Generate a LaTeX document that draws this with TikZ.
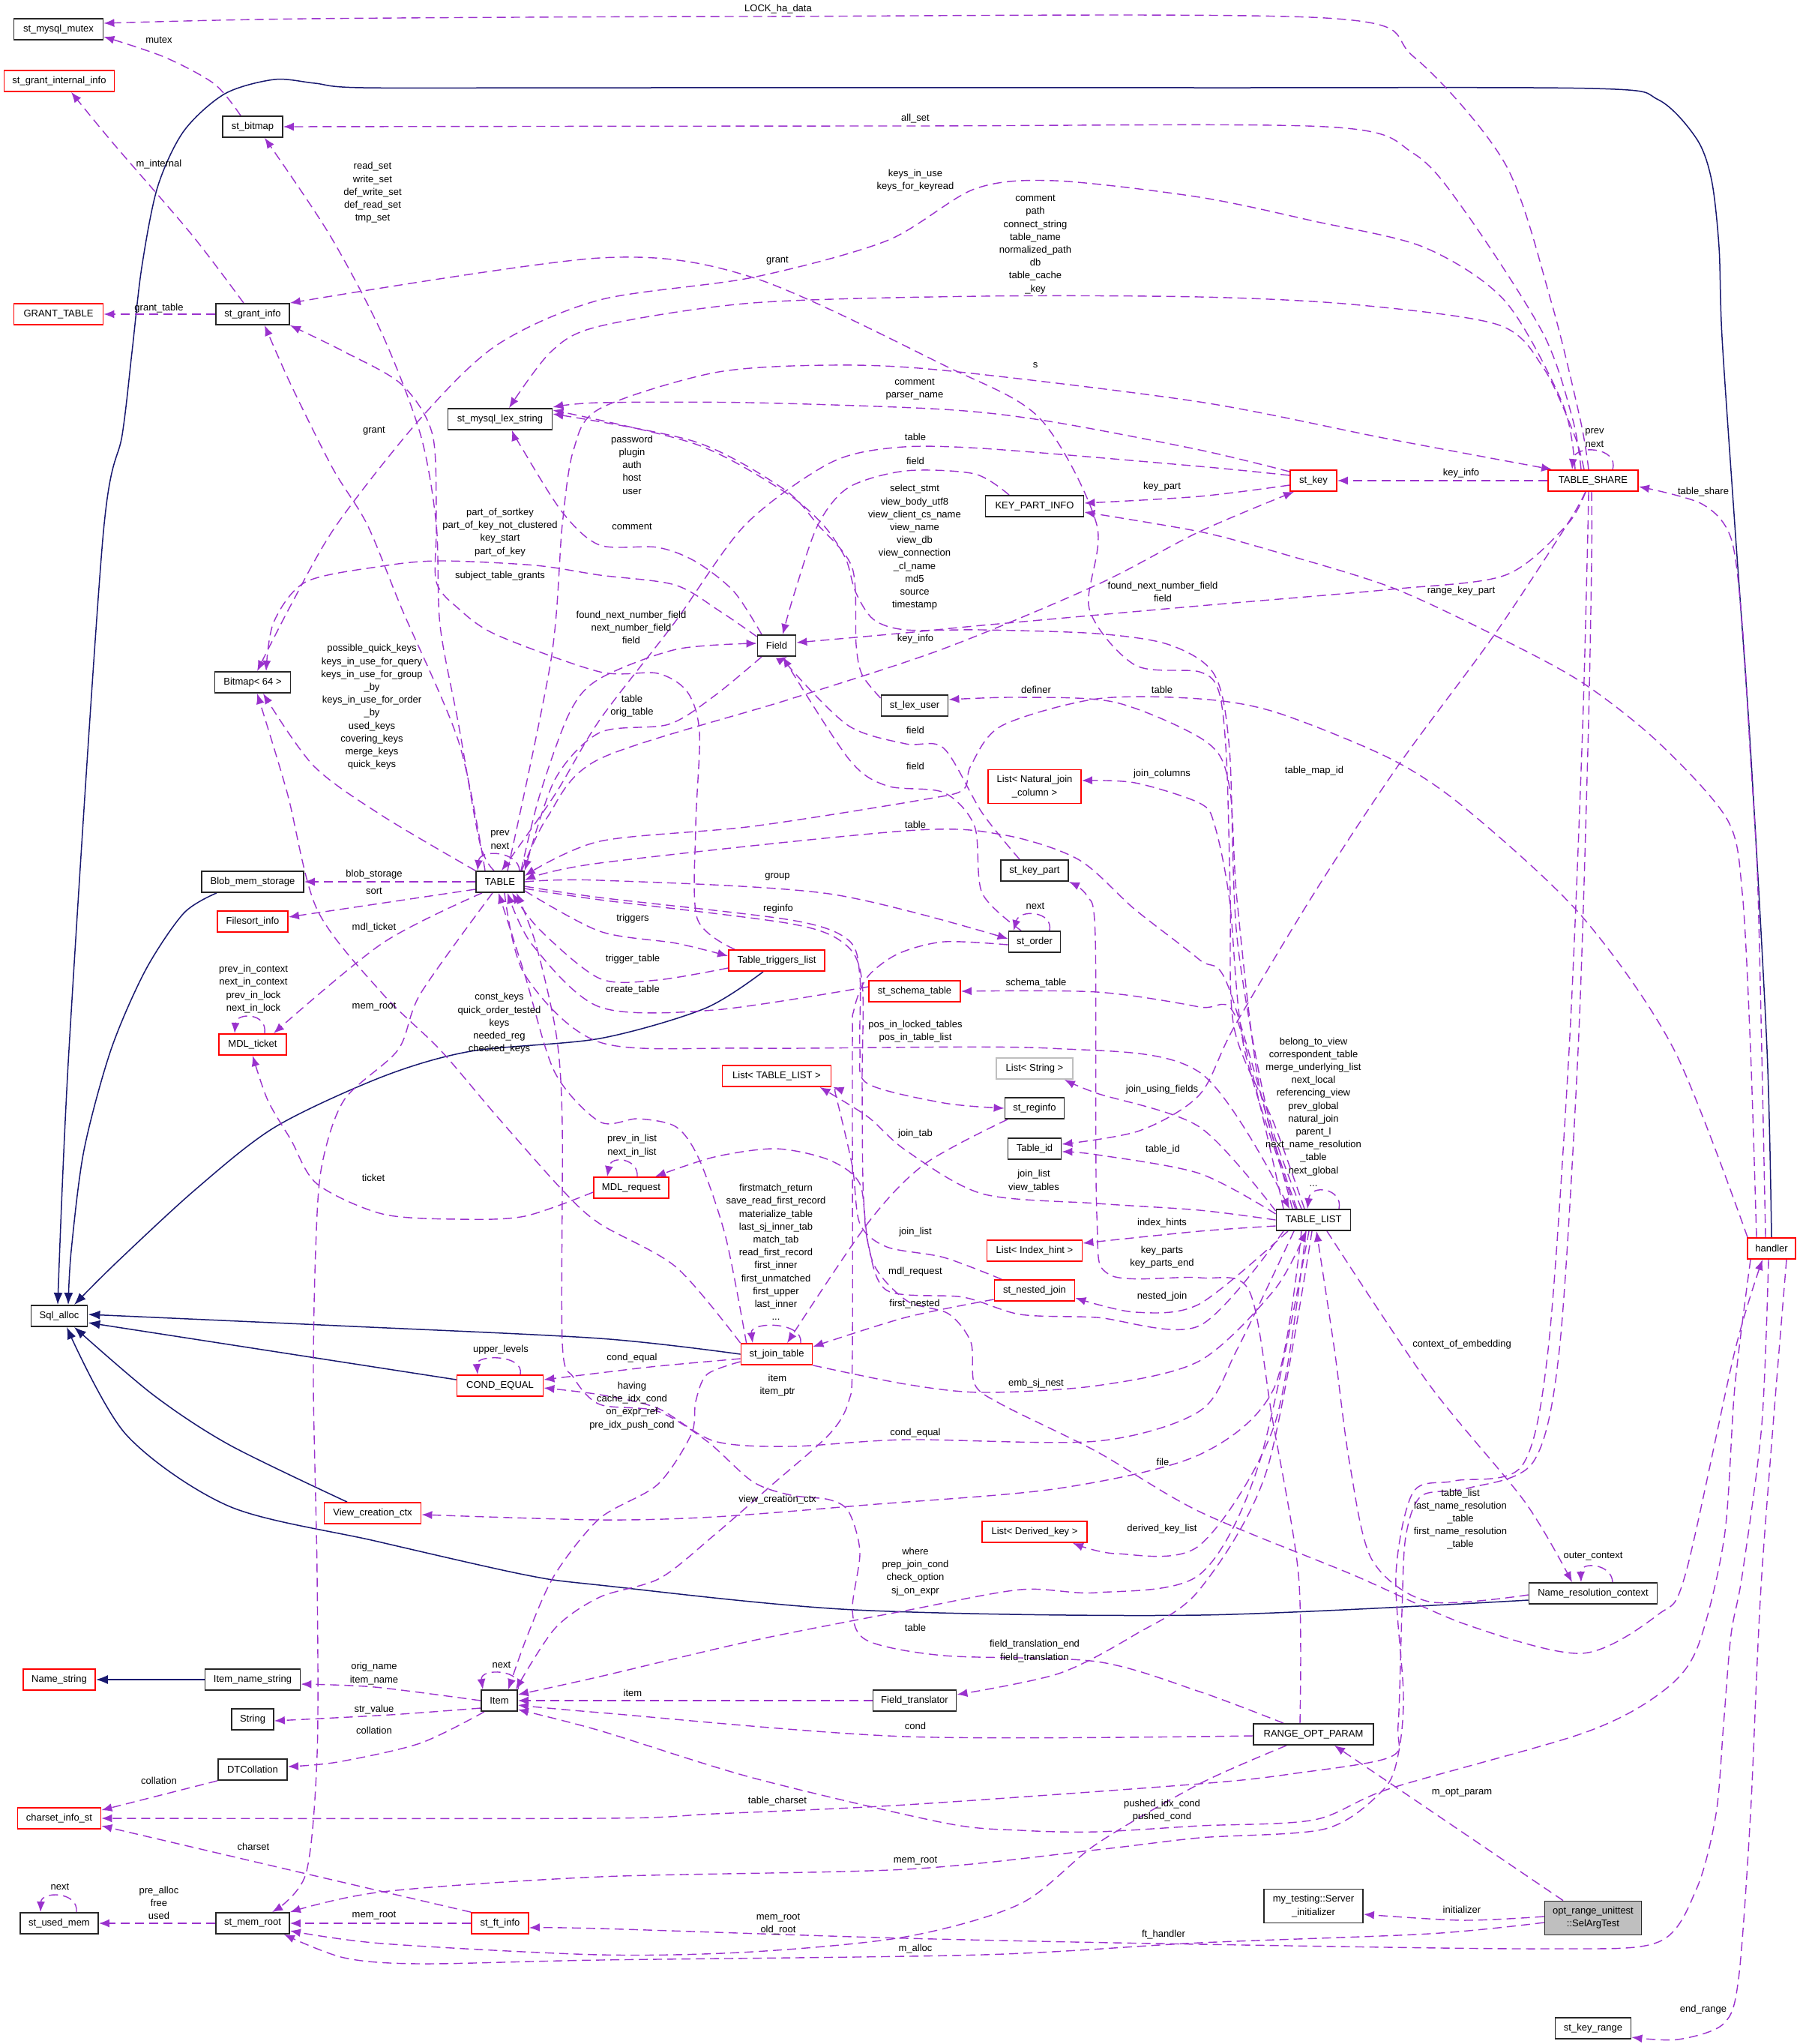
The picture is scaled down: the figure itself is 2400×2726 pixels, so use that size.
\documentclass[tikz,border=0pt]{standalone}
\usepackage{fontspec}
\setmainfont{Liberation Sans}
\usetikzlibrary{arrows.meta}
\pgfdeclarelayer{back}
\pgfdeclarelayer{bg}
\pgfsetlayers{back,bg,main}
\definecolor{pur}{HTML}{9A32CD}
\definecolor{nav}{HTML}{191970}
\definecolor{boxgray}{HTML}{BFBFBF}
\newcommand\nf{\fontsize{6.5pt}{8.6pt}\selectfont}
\tikzset{
 box/.style={draw=black!85, line width=0.9pt, fill=white, minimum height=14pt, inner sep=0pt, font=\nf, align=center},
 rbox/.style={box, draw=red},
 gbox/.style={box, draw=boxgray},
 wd/.style={minimum width=#1*0.5pt},
 two/.style={minimum height=22.5pt},
 lbl/.style={font=\nf, align=center, inner sep=0pt},
 dep/.style={draw=pur, line width=0.7pt, dash pattern=on 6pt off 3.5pt, -{Latex[length=7pt,width=5.5pt]}},
 inh/.style={draw=nav, line width=0.75pt, -{Latex[length=8pt,width=6pt]}},
}
\begin{document}
\begin{tikzpicture}[x=0.5pt,y=-0.5pt]
\useasboundingbox (0,0) rectangle (2400,2726);
\begin{pgfonlayer}{back}
\fill[white] (0,0) rectangle (2400,2726);
\end{pgfonlayer}
% ---------------- nodes ----------------
\node[box,wd=119] (mutex) at (78,39) {st\_mysql\_mutex};
\node[rbox,wd=147] (grantint) at (79,108) {st\_grant\_internal\_info};
\node[box,wd=80] (bitmap) at (337,169) {st\_bitmap};
\node[rbox,wd=119] (granttable) at (78,419) {GRANT\_TABLE};
\node[box,wd=98] (grantinfo) at (337,419) {st\_grant\_info};
\node[box,wd=139] (lexstr) at (667,559) {st\_mysql\_lex\_string};
\node[box,wd=131] (kpi) at (1380,675) {KEY\_PART\_INFO};
\node[rbox,wd=62] (stkey) at (1752,641) {st\_key};
\node[rbox,wd=120] (share) at (2125,641) {TABLE\_SHARE};
\node[box,wd=101] (bitmap64) at (337,910) {Bitmap< 64 >};
\node[box,wd=136] (blob) at (337,1176) {Blob\_mem\_storage};
\node[box,wd=64] (table) at (667,1176) {TABLE};
\node[rbox,wd=94] (filesort) at (337,1229) {Filesort\_info};
\node[rbox,wd=90] (mdlticket) at (337,1393) {MDL\_ticket};
\node[box,wd=51] (field) at (1036,861) {Field};
\node[box,wd=89] (lexuser) at (1220,941) {st\_lex\_user};
\node[rbox,wd=124,two] (natjoin) at (1380,1049) {List< Natural\_join\\\_column >};
\node[box,wd=90] (keypart) at (1380,1161) {st\_key\_part};
\node[box,wd=69] (order) at (1380,1256) {st\_order};
\node[rbox,wd=128] (triggers) at (1036,1281) {Table\_triggers\_list};
\node[rbox,wd=122] (schema) at (1220,1322) {st\_schema\_table};
\node[rbox,wd=145] (listtl) at (1036,1435) {List< TABLE\_LIST >};
\node[gbox,wd=102] (liststr) at (1380,1425) {List< String >};
\node[box,wd=79] (reginfo) at (1380,1478) {st\_reginfo};
\node[box,wd=71] (tableid) at (1380,1532) {Table\_id};
\node[rbox,wd=100] (mdlreq) at (842,1584) {MDL\_request};
\node[rbox,wd=95] (jointab) at (1036,1806) {st\_join\_table};
\node[rbox,wd=127] (idxhint) at (1380,1668) {List< Index\_hint >};
\node[rbox,wd=107] (nested) at (1380,1721) {st\_nested\_join};
\node[rbox,wd=140] (derived) at (1380,2043) {List< Derived\_key >};
\node[box,wd=75] (sqlalloc) at (79,1755) {Sql\_alloc};
\node[rbox,wd=115] (condeq) at (667,1848) {COND\_EQUAL};
\node[rbox,wd=129] (viewctx) at (497,2018) {View\_creation\_ctx};
\node[box,wd=99] (tablelist) at (1752,1627) {TABLE\_LIST};
\node[rbox,wd=64] (handler) at (2363,1665) {handler};
\node[rbox,wd=96] (namestr) at (79,2240) {Name\_string};
\node[box,wd=127] (itemname) at (337,2240) {Item\_name\_string};
\node[box,wd=48] (item) at (666,2268) {Item};
\node[box,wd=56] (string) at (337,2293) {String};
\node[box,wd=92] (dtcoll) at (337,2360) {DTCollation};
\node[rbox,wd=111] (charset) at (79,2425) {charset\_info\_st};
\node[box,wd=104] (usedmem) at (79,2565) {st\_used\_mem};
\node[box,wd=98] (memroot) at (337,2565) {st\_mem\_root};
\node[rbox,wd=76] (ftinfo) at (667,2565) {st\_ft\_info};
\node[box,wd=111] (fieldtr) at (1220,2268) {Field\_translator};
\node[box,wd=171] (nrc) at (2125,2125) {Name\_resolution\_context};
\node[box,wd=160] (rop) at (1752,2313) {RANGE\_OPT\_PARAM};
\node[box,wd=132,two] (servinit) at (1752,2542) {my\_testing::Server\\\_initializer};
\node[box,wd=129,two,fill=boxgray] (selarg) at (2125,2558) {opt\_range\_unittest\\::SelArgTest};
\node[box,wd=101] (keyrange) at (2125,2705) {st\_key\_range};

% ---------------- edges ----------------
\begin{pgfonlayer}{bg}
% inheritance
\draw[inh] plot[smooth] coordinates {(handler.north) (2357,1400) (2335,1000) (2314,700) (2297,450) (2293,330) (2283,240) (2263,185) (2212,133) (2125,118) (1600,117) (800,117) (485,117) (420,111) (366,106) (300,125) (245,175) (210,250) (189,357) (176,470) (163,580) (137,720) (92,1400) ([xshift=-1pt]sqlalloc.north)};
\draw[inh] plot[smooth] coordinates {([xshift=-24pt]blob.south) (245,1218) (194,1294) (148,1400) (112,1534) (95,1668) ([xshift=6pt]sqlalloc.north)};
\draw[inh] plot[smooth] coordinates {([xshift=-9pt]triggers.south) (940,1345) (800,1385) (628,1402) (510,1436) (367,1503) (260,1587) (153,1686) ([xshift=10pt]sqlalloc.north)};
\draw[inh] plot[smooth] coordinates {(jointab.west) (800,1785) (450,1768) ([yshift=1pt]sqlalloc.east)};
\draw[inh] ([yshift=4pt]condeq.west) -- ([yshift=-4.5pt]sqlalloc.east);
\draw[inh] plot[smooth] coordinates {([xshift=-17pt]viewctx.north) (306,1927) (204,1860) ([xshift=10pt]sqlalloc.south)};
\draw[inh] plot[smooth] coordinates {([yshift=-4.5pt]nrc.west) (1600,2154) (1140,2147) (800,2114) (699,2100) (500,2055) (306,2009) (168,1913) ([xshift=5pt]sqlalloc.south)};
\draw[inh] (itemname) -- (namestr);

% dependencies
\draw[dep] plot[smooth] coordinates {([xshift=-3pt]share.north) (2108,560) (2069,402) (2008,219) (1886,76) (1768,24) (1000,22) (408,25) ([yshift=4pt]mutex.east)};
\draw[dep] plot[smooth] coordinates {([xshift=-8pt]bitmap.north) (286,112) (219,76) ([yshift=-5pt]mutex.east)};
\draw[dep] plot[smooth] coordinates {([xshift=-8pt]share.north) (2098,560) (2059,446) (1957,286) (1886,205) (1768,169) (1200,168) (bitmap.east)};
\draw[dep] plot[smooth] coordinates {([xshift=-6pt]grantinfo.north) (255,312) (150,190) ([xshift=8pt]grantint.south)};
\draw[dep] plot[smooth] coordinates {([xshift=-4pt]table.north) (640,1124) (612,968) (587,834) (582,700) (561,580) (510,446) (439,312) ([xshift=8pt]bitmap.south)};
\draw[dep] plot[smooth] coordinates {([xshift=-12pt]share.north) (2085,540) (2008,402) (1900,330) (1753,295) (1600,263) (1407,241) (1300,252) (1183,321) (1004,370) (800,400) (663,460) (561,558) (449,700) (388,807) ([xshift=3pt]bitmap64.north)};
\draw[dep] plot[smooth] coordinates {([xshift=-6pt]share.north) (2100,580) (2059,491) (1998,433) (1804,406) (1600,396) (1310,395) (1004,404) (800,435) (735,469) ([xshift=6pt]lexstr.north)};
\draw[dep] plot[smooth] coordinates {([xshift=-6pt]tablelist.north) (1700,1500) (1646,1370) (1641,1191) (1636,1012) (1626,923) (1600,896) (1514,887) (1453,812) (1463,700) (1387,558) (1259,487) (1004,370) (800,344) (grantinfo.north east)};
\draw[dep] (grantinfo.west) -- (granttable.east);
\draw[dep] plot[smooth] coordinates {([xshift=-10pt]table.north) (612,990) (536,812) (490,700) (444,625) (388,513) ([xshift=8pt]grantinfo.south)};
\draw[dep] plot[smooth] coordinates {([xshift=5pt]table.north) (735,880) (750,700) (765,600) (800,545) (953,497) (1106,487) (1259,494) (1600,536) (1850,585) ([xshift=3pt]share.north west)};
\draw[dep] plot[smooth] coordinates {([yshift=6pt]stkey.west) (1600,600) (1400,562) (1259,546) (1000,537) (800,537) ([yshift=8pt]lexstr.east)};
\draw[dep] plot[smooth] coordinates {([yshift=3.5pt]stkey.west) (1600,622) (1310,598) (1193,597) (1106,618) (994,700) (900,830) (800,960) (740,1060) ([xshift=1pt]table.north)};
\draw[dep] plot[smooth] coordinates {([xshift=-17pt]kpi.north) (1300,632) (1208,628) (1132,650) (1091,700) (1060,790) ([xshift=4pt]field.north)};
\draw[dep] plot[smooth] coordinates {([xshift=-8pt]tablelist.north) (1690,1480) (1650,1250) (1640,1000) (1620,900) (1560,860) (1463,845) (1310,840) (1208,840) (1165,826) (1141,789) (1128,745) (1098,700) (1045,655) (927,592) ([yshift=6pt]lexstr.east)};
\draw[dep] plot[smooth] coordinates {([yshift=5pt]lexuser.west) (1150,900) (1142,860) (1137,758) (1091,700) (1045,652) (927,589) ([yshift=3.5pt]lexstr.east)};
\draw[dep] plot[smooth] coordinates {([xshift=-10pt]field.north) (979,789) (928,749) (877,730) (800,727) (750,683) (694,594) ([xshift=8pt]lexstr.south)};
\draw[dep] plot[smooth] coordinates {([yshift=6pt]field.west) (960,815) (900,780) (800,767) (714,754) (587,748) (510,755) (408,776) (365,830) ([xshift=9pt]bitmap64.north)};
\draw[dep] plot[smooth] coordinates {([xshift=-28pt]triggers.north) (930,1225) (928,1102) (933,977) (917,923) (877,898) (800,896) (663,847) (612,812) (582,776) (582,700) (577,580) (536,513) (459,469) (grantinfo.south east)};
\draw[dep] plot[smooth] coordinates {([xshift=14pt]table.north) (720,1060) (760,950) (800,905) (902,866) ([yshift=1.5pt]field.west)};
\draw[dep] plot[smooth] coordinates {([xshift=-5pt]share.south) (2090,700) (2008,767) (1855,786) (1600,808) (1310,834) (1208,844) ([yshift=2pt]field.east)};
\draw[dep] plot[smooth] coordinates {([xshift=-10pt]handler.north) (2335,1400) (2324,1191) (2304,1093) (2212,990) (2110,910) (1993,847) (1855,783) (1702,736) (1600,709) ([yshift=-4pt]kpi.east)};
\draw[dep] plot[smooth] coordinates {([yshift=-3pt]stkey.west) (1600,662) ([yshift=2pt]kpi.east)};
\draw[dep] (share.west) -- (stkey.east);
\draw[dep] ([xshift=13pt]share.north) .. controls (2160,596) and (2100,592) .. ([xshift=-14pt]share.north);
\draw[dep] plot[smooth] coordinates {([xshift=-4pt]handler.north) (2345,1191) (2335,1012) (2324,834) (2309,718) (2270,672) ([yshift=-4pt]share.east)};
\draw[dep] plot[smooth] coordinates {([xshift=-5pt]share.south) (2090,700) (1993,847) (1865,1021) (1753,1191) (1646,1370) (1600,1460) (1520,1508) ([yshift=3pt]tableid.east)};
\draw[dep] plot[smooth] coordinates {([yshift=4pt]tablelist.west) (1600,1565) (1463,1540) ([yshift=-2pt]tableid.east)};
\draw[dep] ([xshift=17pt]tablelist.north) .. controls (1792,1585) and (1748,1578) .. ([xshift=-4pt]tablelist.north);
\draw[dep] plot[smooth] coordinates {(table.north west) (510,1088) (418,1021) ([xshift=7pt]bitmap64.south)};
\draw[dep] ([xshift=13pt]table.north) .. controls (692,1135) and (640,1132) .. ([xshift=-15pt]table.north);
\draw[dep] (table.west) -- (blob.east);
\draw[dep] ([yshift=-5pt]table.west) -- ([yshift=3pt]filesort.east);
\draw[dep] plot[smooth] coordinates {([xshift=-12pt]table.south) (510,1258) ([xshift=14pt]mdlticket.north)};
\draw[dep] ([xshift=8pt]mdlticket.north) .. controls (357,1350) and (315,1350) .. ([xshift=-12pt]mdlticket.north);
\draw[dep] plot[smooth] coordinates {([xshift=-5pt]table.south) (561,1325) (531,1400) (459,1467) (429,1556) (421,1668) (418,1846) (423,2100) (423,2340) (408,2499) ([xshift=13pt]memroot.north)};
\draw[dep] plot[smooth] coordinates {(jointab.north west) (902,1690) (800,1632) (750,1587) (663,1489) (587,1400) (510,1325) (423,1213) (383,1057) ([xshift=3pt]bitmap64.south)};
\draw[dep] plot[smooth] coordinates {([yshift=-3pt]mdlreq.west) (700,1622) (612,1626) (510,1619) (423,1579) (388,1520) (357,1467) (mdlticket.south)};
\draw[dep] plot[smooth] coordinates {([xshift=-10pt]field.south) (953,928) (892,966) (800,977) (740,1040) (table.north east)};
\draw[dep] plot[smooth] coordinates {([xshift=-2pt]table.north east) (730,1090) (800,1012) (1055,932) (1259,865) (1463,780) (1600,709) ([xshift=3pt]stkey.south west)};
\draw[dep] plot[smooth] coordinates {([xshift=-11pt]tablelist.north) (1680,1450) (1650,1200) (1640,1050) (1610,990) (1489,937) (1361,930) ([yshift=4pt]lexuser.east)};
\draw[dep] plot[smooth] coordinates {([xshift=-16pt]handler.north) (2233,1400) (2110,1222) (1957,1080) (1855,1012) (1702,950) (1600,932) (1463,932) (1336,968) (1295,1021) (1285,1053) (1234,1066) (1004,1102) (800,1122) ([yshift=4pt]table.east)};
\draw[dep] plot[smooth] coordinates {([xshift=-14pt]tablelist.north) (1640,1320) (1600,1280) (1514,1213) (1438,1146) (1336,1113) (1208,1108) (800,1151) ([yshift=1pt]table.east)};
\draw[dep] plot[smooth] coordinates {([xshift=-12pt]tablelist.north) (1660,1400) (1640,1200) (1620,1100) (1600,1071) (1514,1044) ([yshift=4pt]natjoin.east)};
\draw[dep] plot[smooth] coordinates {([xshift=-9pt]rop.north) (1732,2100) (1697,1891) (1666,1721) (1600,1704) (1480,1700) (1463,1620) (1461,1250) (1450,1195) (keypart.south east)};
\draw[dep] plot[smooth] coordinates {([xshift=-10pt]keypart.north) (1310,1084) (1259,998) (1208,992) (1132,968) (1055,892) ([xshift=7pt]field.south)};
\draw[dep] plot[smooth] coordinates {([xshift=-9pt]order.north) (1310,1191) (1300,1102) (1259,1057) (1183,1048) (1132,1012) ([xshift=4pt]field.south)};
\draw[dep] ([xshift=10pt]order.north) .. controls (1405,1215) and (1360,1212) .. ([xshift=-14pt]order.north);
\draw[dep] plot[smooth] coordinates {(table.east) (800,1174) (1106,1192) ([yshift=2pt]order.west)};
\draw[dep] plot[smooth] coordinates {([yshift=-3pt]table.east) (800,1197) (1055,1227) (1132,1254) (1147,1303) (1147,1400) (1157,1445) (1259,1471) (reginfo.west)};
\draw[dep] plot[smooth] coordinates {([yshift=-6pt]table.east) (800,1242) (902,1258) ([yshift=3pt]triggers.west)};
\draw[dep] plot[smooth] coordinates {([yshift=-5pt]triggers.west) (877,1307) (800,1305) (720,1240) ([xshift=8pt]table.south)};
\draw[dep] plot[smooth] coordinates {([yshift=3pt]schema.west) (953,1347) (800,1343) (710,1260) ([xshift=5pt]table.south)};
\draw[dep] plot[smooth] coordinates {([xshift=-20pt]tablelist.north) (1650,1360) (1600,1343) (1463,1323) (schema.east)};
\draw[dep] plot[smooth] coordinates {([xshift=3pt]table.south) (700,1300) (800,1390) (1004,1398) (1400,1398) (1600,1430) ([xshift=-16pt]tablelist.north)};
\draw[dep] plot[smooth] coordinates {([yshift=6pt]tablelist.west) (1600,1503) (1463,1458) ([xshift=-6pt]liststr.south east)};
\draw[dep] plot[smooth] coordinates {(tablelist.west) (1600,1614) (1463,1605) (1310,1592) (1208,1534) (1157,1489) ([xshift=-8pt]listtl.south east)};
\draw[dep] ([xshift=4pt]mdlreq.north) .. controls (852,1545) and (815,1540) .. ([xshift=-16pt]mdlreq.north);
\draw[dep] plot[smooth] coordinates {([xshift=-20pt]tablelist.south) (1600,1768) (1463,1757) (1361,1753) (1285,1730) (1183,1721) (1157,1654) (1147,1579) (1106,1547) (1035,1532) (953,1543) ([xshift=16pt]mdlreq.north)};
\draw[dep] plot[smooth] coordinates {([xshift=-22pt]nested.north) (1259,1677) (1183,1663) (1147,1632) (1137,1556) (1116,1465) ([xshift=1pt]listtl.south east)};
\draw[dep] plot[smooth] coordinates {([xshift=-18pt]reginfo.south) (1234,1552) (1157,1632) ([xshift=7pt]jointab.north)};
\draw[dep] plot[smooth] coordinates {([yshift=-4pt]tablelist.west) (1600,1642) ([yshift=5pt]idxhint.east)};
\draw[dep] plot[smooth] coordinates {([xshift=-17pt]tablelist.south) (1600,1739) (1514,1750) ([yshift=-5pt]nested.east)};
\draw[dep] plot[smooth] coordinates {([yshift=-6pt]nested.west) (1208,1757) ([yshift=5pt]jointab.east)};
\draw[dep] plot[smooth] coordinates {(jointab.south east) (1208,1846) (1310,1857) (1463,1848) (1600,1815) (1700,1720) ([xshift=-5pt]tablelist.south)};
\draw[dep] plot[smooth] coordinates {([yshift=-3pt]jointab.west) (877,1822) (800,1831) ([yshift=4pt]condeq.east)};
\draw[dep] plot[smooth] coordinates {([xshift=-13pt]tablelist.south) (1650,1800) (1600,1882) (1463,1922) (1208,1920) (1055,1929) (953,1922) (877,1878) (800,1860) ([yshift=-1.5pt]condeq.east)};
\draw[dep] ([xshift=13.5pt]condeq.north) .. controls (700,1806) and (635,1806) .. ([xshift=-15pt]condeq.north);
\draw[dep] ([xshift=16pt]jointab.north) .. controls (1072,1762) and (1000,1762) .. ([xshift=-16pt]jointab.north);
\draw[dep] plot[smooth] coordinates {([xshift=4pt]jointab.north west) (968,1650) (933,1547) (902,1503) (851,1492) (800,1496) (740,1430) (700,1300) ([xshift=-1pt]table.south)};
\draw[dep] plot[smooth] coordinates {([yshift=-2pt]order.west) (1259,1256) (1198,1272) (1157,1303) (1139,1347) (1137,1400) (1137,1802) (1132,1869) (1106,1913) (1030,1980) (953,2047) (880,2105) (800,2130) (740,2172) ([xshift=11pt]item.north)};
\draw[dep] plot[smooth] coordinates {([yshift=-5pt]jointab.west) (943,1833) (928,1869) (922,1913) (877,1980) (800,2025) (740,2100) (704,2180) ([xshift=6pt]item.north)};
\draw[dep] plot[smooth] coordinates {([xshift=-8pt]tablelist.south) (1700,1850) (1600,1940) (1412,1985) (1157,2007) (953,2023) (800,2027) ([yshift=-1pt]viewctx.east)};
% file
\draw[dep] plot[smooth] coordinates {([yshift=-4.5pt]table.east) (800,1200) (1055,1232) (1128,1260) (1150,1310) (1150,1445) (1152,1600) (1165,1685) (1210,1735) (1265,1752) (1295,1790) (1300,1846) (1336,1873) (1463,1936) (1600,2016) (1804,2100) (1957,2167) (2110,2205) (2212,2153) (2248,2100) (2314,1802) ([xshift=-6pt]handler.south)};
\draw[dep] plot[smooth] coordinates {([xshift=-5pt]tablelist.south) (1700,1900) (1600,2061) (1489,2072) ([xshift=-10pt]derived.south east)};
\draw[dep] plot[smooth] coordinates {([xshift=-3pt]tablelist.south) (1680,1950) (1600,2100) (1463,2124) (1361,2120) (1208,2148) (1004,2188) (800,2236) ([yshift=4pt]item.east)};
\draw[dep] plot[smooth] coordinates {([xshift=-1pt]tablelist.south) (1690,1960) (1600,2120) (1514,2180) (1412,2232) ([yshift=4pt]fieldtr.east)};
\draw[dep] (fieldtr.west) -- (item.east);
\draw[dep] plot[smooth] coordinates {([yshift=-1pt]rop.west) (1208,2316) (800,2284) ([yshift=-3pt]item.east)};
% RANGE_OPT_PARAM -> TABLE (table)
\draw[dep] plot[smooth] coordinates {([xshift=-20pt]rop.north) (1600,2256) (1463,2216) (1259,2208) (1157,2188) (1137,2148) (1147,2070) (1132,2016) (1106,2000) (1055,1994) (1004,1976) (943,1922) (877,1882) (800,1873) (765,1837) (750,1790) (750,1500) (742,1380) (715,1260) ([xshift=11pt]table.south)};
\draw[dep] plot[smooth] coordinates {(item.west) (500,2250) ([yshift=-3pt]itemname.east)};
\draw[dep] plot[smooth] coordinates {([yshift=-5pt]item.west) (520,2287) ([yshift=-1pt]string.east)};
\draw[dep] plot[smooth] coordinates {([xshift=-10pt]item.south) (560,2325) (450,2350) ([yshift=2pt]dtcoll.east)};
\draw[dep] (item.north east) .. controls (700,2226) and (640,2224) .. ([xshift=-11pt]item.north);
\draw[dep] (dtcoll.south west) -- ([yshift=-2pt]charset.north east);
\draw[dep] plot[smooth] coordinates {([xshift=-1pt]share.south) (2123,750) (2118,1000) (2105,1400) (2080,1800) (2045,1950) (1957,1985) (1896,1995) (1875,2050) (1870,2150) (1865,2300) (1855,2343) (1728,2365) (1600,2379) (1208,2407) (953,2419) (800,2425) (charset.east)};
\draw[dep] plot[smooth] coordinates {([xshift=-3pt]share.south) (2117,750) (2110,1000) (2093,1400) (2065,1800) (2030,1955) (1940,1975) (1885,1990) (1862,2100) (1872,2260) (1865,2340) (1845,2387) (1768,2439) (1600,2451) (1463,2467) (1208,2493) (800,2503) (510,2523) (memroot.north east)};
\draw[dep] plot[smooth] coordinates {(ftinfo.north west) (400,2497) ([yshift=-5pt]charset.east)};
\draw[dep] (memroot.west) -- (usedmem.east);
\draw[dep] ([xshift=11.5pt]usedmem.north) .. controls (105,2522) and (55,2522) .. ([xshift=-12.5pt]usedmem.north);
\draw[dep] (ftinfo.west) -- (memroot.east);
\draw[dep] plot[smooth] coordinates {([xshift=-2pt]handler.south) (2350,1900) (2324,2100) (2309,2180) (2299,2300) (2289,2419) (2263,2519) (2212,2590) (2059,2599) (1600,2593) (1208,2585) (800,2572) ([yshift=-3pt]ftinfo.east)};
\draw[dep] plot[smooth] coordinates {([xshift=-18pt]rop.south) (1600,2379) (1463,2459) (1361,2539) (1208,2583) (1004,2603) (800,2607) (510,2592) ([yshift=-5pt]memroot.east)};
\draw[dep] plot[smooth] coordinates {([yshift=-3pt]selarg.west) (1906,2579) (1600,2591) (1310,2607) (800,2614) (561,2619) (459,2611) ([xshift=-4pt]memroot.south east)};
\draw[dep] plot[smooth] coordinates {([xshift=-14pt]handler.south) (2314,1850) (2300,2050) (2263,2200) (2212,2260) (2110,2312) (1855,2385) (1753,2427) (1600,2435) (1463,2443) (1361,2441) (1259,2431) (1004,2371) (800,2308) ([yshift=-6pt]item.east)};
\draw[dep] ([xshift=-20pt]selarg.north) -- ([xshift=14pt]rop.south);
\draw[dep] plot[smooth] coordinates {([yshift=1pt]selarg.west) (1950,2561) ([yshift=-5.5pt]servinit.east)};
\draw[dep] plot[smooth] coordinates {([xshift=10pt]handler.south) (2350,2100) (2335,2419) (2319,2639) (2299,2699) (2238,2720) ([yshift=-6pt]keyrange.east)};
\draw[dep] ([xshift=13pt]nrc.north) .. controls (2150,2085) and (2108,2082) .. ([xshift=-8pt]nrc.north);
\draw[dep] plot[smooth] coordinates {([xshift=9pt]tablelist.south) (1906,1846) (2034,2003) ([xshift=-14pt]nrc.north)};
\draw[dep] plot[smooth] coordinates {([yshift=-1pt]nrc.west) (1906,2136) (1830,2080) (1800,1950) (1780,1800) ([xshift=2pt]tablelist.south)};
\end{pgfonlayer}

% ---------------- labels ----------------
\node[lbl] (l1) at (1038,12) {LOCK\_ha\_data};
\node[lbl] (l2) at (212,53) {mutex};
\node[lbl] (l3) at (1221,158) {all\_set};
\node[lbl] (l4) at (212,219) {m\_internal};
\node[lbl] (l5) at (497,257) {read\_set\\write\_set\\def\_write\_set\\def\_read\_set\\tmp\_set};
\node[lbl] (l6) at (1221,241) {keys\_in\_use\\keys\_for\_keyread};
\node[lbl] (l7) at (1381,326) {comment\\path\\connect\_string\\table\_name\\normalized\_path\\db\\table\_cache\\\_key};
\node[lbl] (l8) at (1037,348) {grant};
\node[lbl] (l9) at (212,411) {grant\_table};
\node[lbl] (l10) at (499,575) {grant};
\node[lbl] (l11) at (1381,487) {s};
\node[lbl] (l12) at (1220,519) {comment\\parser\_name};
\node[lbl] (l13) at (1221,583) {table};
\node[lbl] (l14) at (1221,615) {field};
\node[lbl] (l15) at (1220,730) {select\_stmt\\view\_body\_utf8\\view\_client\_cs\_name\\view\_name\\view\_db\\view\_connection\\\_cl\_name\\md5\\source\\timestamp};
\node[lbl] (l16) at (843,620) {password\\plugin\\auth\\host\\user};
\node[lbl] (l17) at (843,702) {comment};
\node[lbl] (l18) at (667,710) {part\_of\_sortkey\\part\_of\_key\_not\_clustered\\key\_start\\part\_of\_key};
\node[lbl] (l19) at (667,768) {subject\_table\_grants};
\node[lbl] (l20) at (842,837) {found\_next\_number\_field\\next\_number\_field\\field};
\node[lbl] (l21) at (1551,789) {found\_next\_number\_field\\field};
\node[lbl] (l22) at (1949,788) {range\_key\_part};
\node[lbl] (l23) at (1550,649) {key\_part};
\node[lbl] (l24) at (1949,631) {key\_info};
\node[lbl] (l25) at (2127,584) {prev\\next};
\node[lbl] (l26) at (2272,656) {table\_share};
\node[lbl] (l27) at (1753,1028) {table\_map\_id};
\node[lbl] (l28) at (1551,1533) {table\_id};
\node[lbl] (l29) at (1752,1483) {belong\_to\_view\\correspondent\_table\\merge\_underlying\_list\\next\_local\\referencing\_view\\prev\_global\\natural\_join\\parent\_l\\next\_name\_resolution\\\_table\\next\_global\\...};
\node[lbl] (l30) at (496,943) {possible\_quick\_keys\\keys\_in\_use\_for\_query\\keys\_in\_use\_for\_group\\\_by\\keys\_in\_use\_for\_order\\\_by\\used\_keys\\covering\_keys\\merge\_keys\\quick\_keys};
\node[lbl] (l31) at (667,1120) {prev\\next};
\node[lbl] (l32) at (499,1166) {blob\_storage};
\node[lbl] (l33) at (499,1188) {sort};
\node[lbl] (l34) at (499,1237) {mdl\_ticket};
\node[lbl] (l35) at (338,1319) {prev\_in\_context\\next\_in\_context\\prev\_in\_lock\\next\_in\_lock};
\node[lbl] (l36) at (499,1343) {mem\_root};
\node[lbl] (l37) at (666,1365) {const\_keys\\quick\_order\_tested\\keys\\needed\_reg\\checked\_keys};
\node[lbl] (l38) at (498,1571) {ticket};
\node[lbl] (l39) at (843,942) {table\\orig\_table};
\node[lbl] (l40) at (1221,852) {key\_info};
\node[lbl] (l41) at (1382,920) {definer};
\node[lbl] (l42) at (1550,920) {table};
\node[lbl] (l43) at (1221,1100) {table};
\node[lbl] (l44) at (1550,1032) {join\_columns};
\node[lbl] (l45) at (1550,1677) {key\_parts\\key\_parts\_end};
\node[lbl] (l46) at (1221,974) {field};
\node[lbl] (l47) at (1221,1022) {field};
\node[lbl] (l48) at (1381,1208) {next};
\node[lbl] (l49) at (1037,1169) {group};
\node[lbl] (l50) at (1038,1212) {reginfo};
\node[lbl] (l51) at (844,1225) {triggers};
\node[lbl] (l52) at (844,1279) {trigger\_table};
\node[lbl] (l53) at (844,1320) {create\_table};
\node[lbl] (l54) at (1382,1311) {schema\_table};
\node[lbl] (l55) at (1221,1376) {pos\_in\_locked\_tables\\pos\_in\_table\_list};
\node[lbl] (l56) at (1550,1453) {join\_using\_fields};
\node[lbl] (l57) at (1379,1575) {join\_list\\view\_tables};
\node[lbl] (l58) at (843,1528) {prev\_in\_list\\next\_in\_list};
\node[lbl] (l59) at (1221,1696) {mdl\_request};
\node[lbl] (l60) at (1221,1643) {join\_list};
\node[lbl] (l61) at (1221,1512) {join\_tab};
\node[lbl] (l62) at (1550,1631) {index\_hints};
\node[lbl] (l63) at (1550,1729) {nested\_join};
\node[lbl] (l64) at (1220,1739) {first\_nested};
\node[lbl] (l65) at (1382,1845) {emb\_sj\_nest};
\node[lbl] (l66) at (843,1811) {cond\_equal};
\node[lbl] (l67) at (1221,1911) {cond\_equal};
\node[lbl] (l68) at (668,1800) {upper\_levels};
\node[lbl] (l69) at (1035,1670) {firstmatch\_return\\save\_read\_first\_record\\materialize\_table\\last\_sj\_inner\_tab\\match\_tab\\read\_first\_record\\first\_inner\\first\_unmatched\\first\_upper\\last\_inner\\...};
\node[lbl] (l70) at (1037,1848) {item\\item\_ptr};
\node[lbl] (l71) at (843,1875) {having\\cache\_idx\_cond\\on\_expr\_ref\\pre\_idx\_push\_cond};
\node[lbl] (l72) at (1037,2000) {view\_creation\_ctx};
\node[lbl] (l73) at (1551,1950) {file};
\node[lbl] (l74) at (1550,2039) {derived\_key\_list};
\node[lbl] (l75) at (1221,2096) {where\\prep\_join\_cond\\check\_option\\sj\_on\_expr};
\node[lbl] (l76) at (1380,2202) {field\_translation\_end\\field\_translation};
\node[lbl] (l77) at (844,2258) {item};
\node[lbl] (l78) at (1221,2302) {cond};
\node[lbl] (l79) at (1221,2171) {table};
\node[lbl] (l80) at (499,2232) {orig\_name\\item\_name};
\node[lbl] (l81) at (499,2280) {str\_value};
\node[lbl] (l82) at (499,2308) {collation};
\node[lbl] (l83) at (669,2220) {next};
\node[lbl] (l84) at (212,2375) {collation};
\node[lbl] (l85) at (1037,2402) {table\_charset};
\node[lbl] (l86) at (1221,2482) {mem\_root};
\node[lbl] (l87) at (338,2463) {charset};
\node[lbl] (l88) at (212,2538) {pre\_alloc\\free\\used};
\node[lbl] (l89) at (80,2516) {next};
\node[lbl] (l90) at (499,2555) {mem\_root};
\node[lbl] (l91) at (1552,2580) {ft\_handler};
\node[lbl] (l92) at (1038,2566) {mem\_root\\old\_root};
\node[lbl] (l93) at (1221,2599) {m\_alloc};
\node[lbl] (l94) at (1550,2415) {pushed\_idx\_cond\\pushed\_cond};
\node[lbl] (l95) at (1950,2391) {m\_opt\_param};
\node[lbl] (l96) at (1950,2547) {initializer};
\node[lbl] (l97) at (2272,2680) {end\_range};
\node[lbl] (l98) at (2125,2076) {outer\_context};
\node[lbl] (l99) at (1950,1793) {context\_of\_embedding};
\node[lbl] (l100) at (1948,2026) {table\_list\\last\_name\_resolution\\\_table\\first\_name\_resolution\\\_table};
\end{tikzpicture}
\end{document}
